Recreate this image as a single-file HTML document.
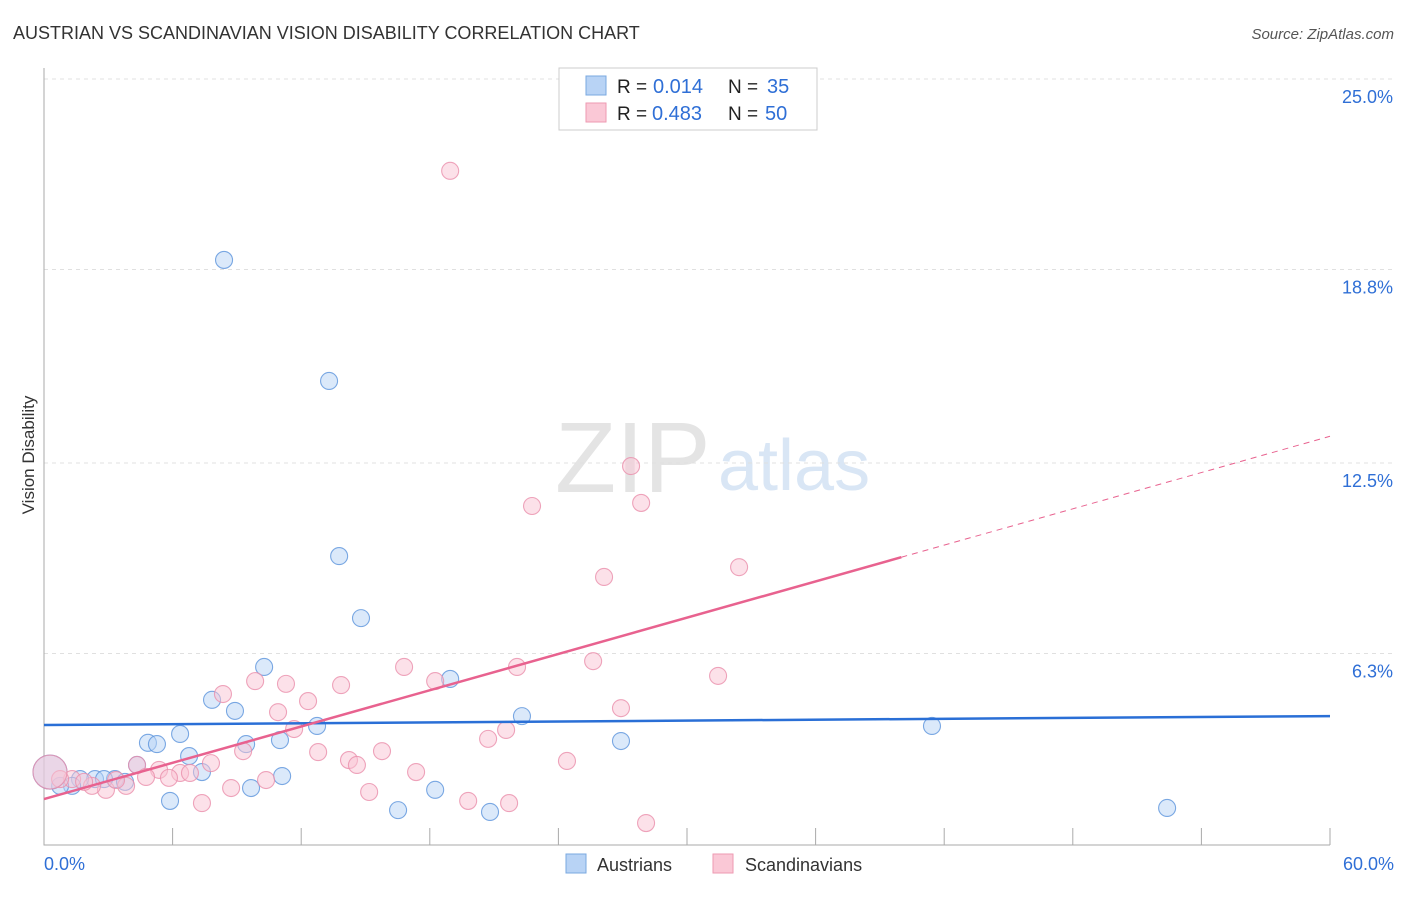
<!DOCTYPE html>
<html><head><meta charset="utf-8"><style>
body{margin:0;background:#fff;font-family:"Liberation Sans",sans-serif}
svg text{font-family:"Liberation Sans",sans-serif}
</style></head><body>
<svg id="chart" width="1406" height="892">
<text x="13" y="39" font-size="18" fill="#333">AUSTRIAN VS SCANDINAVIAN VISION DISABILITY CORRELATION CHART</text>
<text x="1394" y="39" font-size="15" fill="#555" font-style="italic" text-anchor="end">Source: ZipAtlas.com</text>
<text x="34" y="455" font-size="17" fill="#333" text-anchor="middle" transform="rotate(-90 34 455)">Vision Disability</text>
<text x="555" y="492" font-size="100" fill="#e4e4e4" font-family="Liberation Serif">ZIP</text>
<text x="718" y="490" font-size="72" fill="#d9e6f5">atlas</text>
<g id="grid"></g>
<g id="marks"></g>
<g>
<rect x="559" y="68" width="258" height="62" fill="#fff" stroke="#ccc"/>
<rect x="586" y="76" width="20" height="19" fill="#b8d3f5" stroke="#7aa8e0"/>
<rect x="586" y="103" width="20" height="19" fill="#fac8d6" stroke="#ee9ab2"/>
<text x="617" y="93" font-size="19" fill="#222">R =</text>
<text x="653" y="93" font-size="20" fill="#2f6fd6">0.014</text>
<text x="728" y="93" font-size="19" fill="#222">N =</text>
<text x="767" y="93" font-size="20" fill="#2f6fd6">35</text>
<text x="617" y="120" font-size="19" fill="#222">R =</text>
<text x="652" y="120" font-size="20" fill="#2f6fd6">0.483</text>
<text x="728" y="120" font-size="19" fill="#222">N =</text>
<text x="765" y="120" font-size="20" fill="#2f6fd6">50</text>
</g>
<g>
<rect x="566" y="854" width="20" height="19" fill="#b8d3f5" stroke="#7aa8e0"/>
<text x="597" y="871" font-size="18" fill="#333">Austrians</text>
<rect x="713" y="854" width="20" height="19" fill="#fac8d6" stroke="#ee9ab2"/>
<text x="745" y="871" font-size="18" fill="#333">Scandinavians</text>
</g>
</svg>
<script>
const yTicks=[6.3,12.5,18.8,25.0];
const xTickLabels=["0.0%","60.0%"];
const austX=[8.40,13.30,13.77,14.79,10.27,18.95,7.84,8.91,22.30,12.74,41.43,6.35,4.85,5.27,11.01,9.43,26.92,6.77,7.37,11.11,4.34,3.31,3.78,2.38,1.68,1.31,0.75,9.66,18.25,5.88,16.52,20.81,52.40,0.28,2.80];
const austY=[19.11,15.17,9.47,7.45,5.86,5.47,4.79,4.43,4.26,3.94,3.94,3.68,3.39,3.35,3.48,3.35,3.45,2.96,2.44,2.31,2.67,2.21,2.12,2.21,2.21,1.99,1.99,1.92,1.86,1.50,1.20,1.14,1.27,2.44,2.21];
const scanX=[18.95,27.39,27.86,22.77,32.43,26.13,25.62,22.07,16.80,31.45,18.25,9.85,11.29,13.86,8.35,12.32,10.92,26.92,11.67,20.72,21.56,7.79,9.29,12.79,15.77,14.23,14.60,24.40,17.36,4.34,5.37,6.35,6.81,4.76,5.83,10.36,8.73,3.83,2.89,2.24,1.31,0.75,15.17,19.79,21.70,7.37,28.09,0.28,3.36,1.87];
const scanY=[22.01,12.40,11.20,11.10,9.11,8.79,6.05,5.86,5.86,5.57,5.40,5.40,5.31,5.27,4.98,4.75,4.39,4.52,3.84,3.52,3.81,2.73,3.12,3.09,3.12,2.83,2.67,2.80,2.44,2.67,2.51,2.41,2.41,2.28,2.25,2.18,1.92,1.99,1.86,1.99,2.21,2.21,1.79,1.50,1.43,1.43,0.78,2.44,2.18,2.12];
const austTrend=[3.97,4.26];
const scanTrend=[1.56,13.37];
const scanSolidEnd=40;
const X0=44,X1=1330,Y0=847,YTOP=79;
const xs=v=>X0+v/60*(X1-X0);
const ys=v=>Y0-v/25*(Y0-YTOP);
const NS="http://www.w3.org/2000/svg";
function mk(t,a,p){const e=document.createElementNS(NS,t);for(const k in a)e.setAttribute(k,a[k]);p.appendChild(e);return e;}
const grid=document.getElementById('grid'),marks=document.getElementById('marks');
yTicks.forEach(t=>{
 const l=mk('line',{x1:X0,x2:1395,y1:ys(t),y2:ys(t),stroke:'#e0e0e0','stroke-dasharray':'4,4'},grid);
 
 
 const tx=mk('text',{x:1393,y:ys(t)+24,'font-size':18,fill:'#2f6fd6','text-anchor':'end'},grid);
 tx.textContent=t.toFixed(1)+'%';
 
 
});
const ax=mk('path',{d:`M${X0} 68V845H${X1}`,stroke:'#aaa',fill:'none'},grid);


for(let i=1;i<=10;i++){const x=xs(i*6);const t=mk('line',{x1:x,x2:x,y1:828,y2:845,stroke:'#aaa'},grid);
 
 }
[[0,'start',44],[60,'end',1394]].forEach((d,i)=>{const t=mk('text',{x:d[2],y:870,'font-size':18,fill:'#2f6fd6','text-anchor':d[1]},grid);t.textContent=xTickLabels[i];
 
 });
function dot(x,y,big,fill,stroke,name){
 const c=mk('circle',{cx:xs(x),cy:ys(y),r:big?17:8.5,fill:fill,'fill-opacity':0.5,stroke:stroke,'stroke-opacity':0.8,'stroke-width':1.1},marks);
 
 
}
austX.forEach((x,i)=>dot(x,austY[i],i===33,'#b8d3f5','#5b93dc','austrian-point'));
scanX.forEach((x,i)=>dot(x,scanY[i],i===47,'#f9c4d3','#ea8fab','scandinavian-point'));
const bl=mk('line',{x1:xs(0),y1:ys(austTrend[0]),x2:xs(60),y2:ys(austTrend[1]),stroke:'#2a6fd6','stroke-width':2.5},marks);


const sv=x=>scanTrend[0]+(scanTrend[1]-scanTrend[0])*x/60;
const pl=mk('line',{x1:xs(0),y1:ys(sv(0)),x2:xs(scanSolidEnd),y2:ys(sv(scanSolidEnd)),stroke:'#e8628f','stroke-width':2.5},marks);


const pd=mk('line',{x1:xs(scanSolidEnd),y1:ys(sv(scanSolidEnd)),x2:xs(60),y2:ys(sv(60)),stroke:'#e8628f','stroke-width':1,'stroke-dasharray':'6,5'},marks);


</script>
</body></html>
